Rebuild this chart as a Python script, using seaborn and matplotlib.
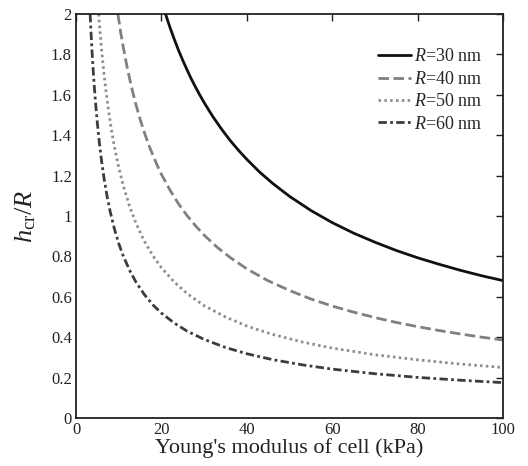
import numpy as np
import pandas as pd
import matplotlib
matplotlib.use("Agg")
import matplotlib.pyplot as plt
import seaborn as sns

# valori (E in kPa, h_cr/R)
E_30 = [20.95, 22, 23, 24, 25, 26, 27, 28, 29, 30, 32, 34, 36, 38, 40, 43, 46, 50, 55, 60, 65, 70, 75, 80, 85, 90, 95, 100]
h_30 = [2.0, 1.933, 1.875, 1.820, 1.770, 1.723, 1.678, 1.637, 1.598, 1.561, 1.493, 1.432, 1.376, 1.326, 1.280, 1.217,
        1.162, 1.097, 1.027, 0.967, 0.915, 0.870, 0.829, 0.793, 0.761, 0.731, 0.704, 0.68]

E_40 = [9.8, 10.5, 11, 12, 13, 14, 15, 16, 17, 18, 19, 20, 22, 24, 26, 28, 30, 33, 36, 40, 45, 50, 55, 60, 65, 70, 75,
        80, 85, 90, 95, 100]
h_40 = [2.0, 1.903, 1.842, 1.732, 1.637, 1.553, 1.479, 1.413, 1.353, 1.300, 1.251, 1.206, 1.128, 1.060, 1.002, 0.951,
        0.905, 0.846, 0.796, 0.738, 0.679, 0.631, 0.589, 0.554, 0.524, 0.497, 0.473, 0.452, 0.433, 0.416, 0.400, 0.386]

E_50 = [5.3, 5.6, 6, 6.5, 7, 7.6, 8.3, 9, 10, 11, 12.5, 14, 16, 18, 20, 23, 26, 30, 35, 40, 46, 53, 60, 70, 80, 90, 100]
h_50 = [2.0, 1.918, 1.820, 1.713, 1.620, 1.523, 1.425, 1.341, 1.240, 1.155, 1.050, 0.966, 0.875, 0.803, 0.744, 0.673,
        0.616, 0.556, 0.500, 0.455, 0.414, 0.376, 0.346, 0.313, 0.288, 0.267, 0.25]

E_60 = [3.3, 3.5, 3.75, 4, 4.3, 4.6, 5, 5.5, 6, 6.6, 7.3, 8, 9, 10, 11, 12.5, 14, 16, 18, 20, 23, 26, 30, 35, 40, 46, 53,
        60, 70, 80, 90, 100]
h_60 = [2.0, 1.912, 1.813, 1.727, 1.634, 1.552, 1.457, 1.355, 1.269, 1.181, 1.094, 1.021, 0.935, 0.864, 0.805, 0.733,
        0.674, 0.611, 0.560, 0.519, 0.470, 0.430, 0.389, 0.349, 0.318, 0.289, 0.263, 0.242, 0.219, 0.201, 0.187, 0.175]

etichette = ["$R$=30 nm", "$R$=40 nm", "$R$=50 nm", "$R$=60 nm"]
colori = ["#111111", "#808080", "#8c8c8c", "#3c3c3c"]
stili = ["-", (0, (3.8, 1.6)), (0, (0.9, 1.2)), (0, (3.0, 1.2, 1.0, 1.2))]

sns.set_theme(style="white")
plt.rcParams["font.family"] = ["Liberation Serif", "DejaVu Serif"]
plt.rcParams["mathtext.fontset"] = "custom"
plt.rcParams["mathtext.rm"] = "Liberation Serif"
plt.rcParams["mathtext.it"] = "Liberation Serif:italic"

fig = plt.figure(figsize=(5.28, 4.66), dpi=100)
ax = fig.add_axes([0.144, 0.103, 0.809, 0.867])

serie = [(E_30, h_30), (E_40, h_40), (E_50, h_50), (E_60, h_60)]
for (E, h), lab, c, ls in zip(serie, etichette, colori, stili):
    df = pd.DataFrame({"E": E, "h": h})
    sns.lineplot(data=df, x="E", y="h", ax=ax, color=c, lw=2.0, label=lab, linestyle=ls)

ax.set_xlim(0, 100)
ax.set_ylim(0, 2)
ax.set_xticks(np.arange(0, 101, 20))
ax.set_yticks(np.arange(0, 2.01, 0.2))
ax.set_yticklabels(["0", "0.2", "0.4", "0.6", "0.8", "1", "1.2", "1.4", "1.6", "1.8", "2"])
ax.tick_params(direction="in", length=5, width=1, top=True, right=True, labelsize=12, colors="#222222", pad=3)
for s in ax.spines.values():
    s.set_color("#222222")
    s.set_linewidth(1.3)
ax.set_xlabel("Young's modulus of cell (kPa)", fontsize=16, labelpad=0, color="#222222")
ax.set_ylabel("$h_{\\rm cr}/R$", fontsize=19, labelpad=9, color="#222222")

leg = ax.legend(loc="upper right", bbox_to_anchor=(0.99, 0.955), frameon=False, fontsize=13,
                handlelength=1.8, handletextpad=0.2, labelspacing=0.3)

fig.savefig("out.png", dpi=100)
